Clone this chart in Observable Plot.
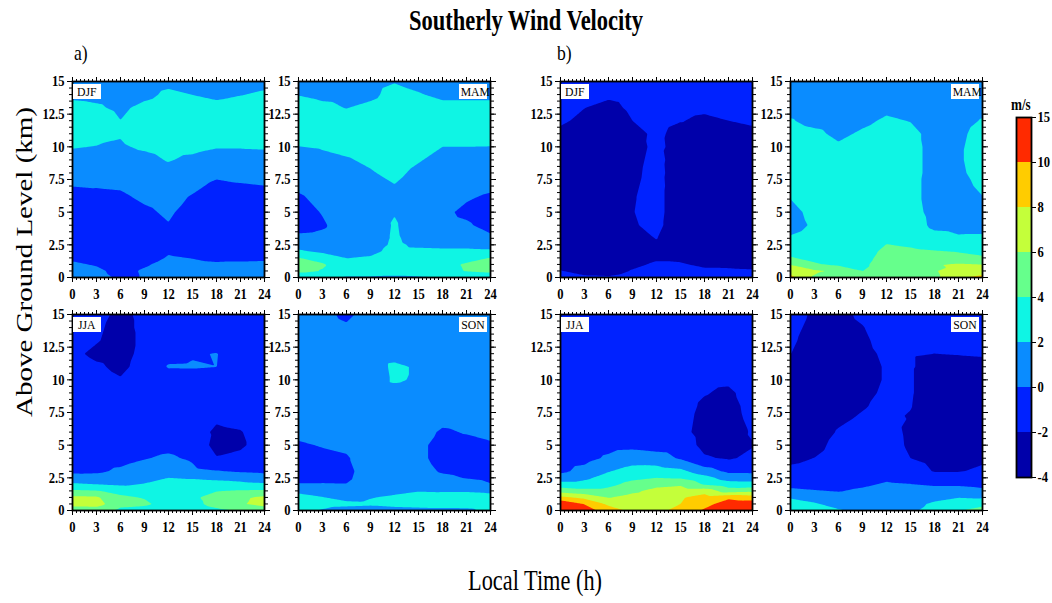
<!DOCTYPE html>
<html>
<head>
<meta charset="utf-8">
<script src="https://cdn.jsdelivr.net/npm/d3@7"></script>
<script src="https://cdn.jsdelivr.net/npm/@observablehq/plot@0.6"></script>
<style>
  body { margin: 0; background: #fff; }
  #root { position: relative; width: 1052px; height: 603px; background: #fff; overflow: hidden;
          font-family: "Liberation Serif", "Times New Roman", serif; color: #000; }
  .t { position: absolute; white-space: nowrap; line-height: 1; }
  .tag { position: absolute; background: #fff; font-size: 13px; line-height: 15px; height: 15px;
         width: 28px; text-align: center; white-space: nowrap; }
  .tag span { display: inline-block; transform: scaleX(0.9); }
  svg { position: absolute; overflow: visible; }
</style>
</head>
<body>
<div id="root"></div>
<script>
// ---------------- data ----------------
const HOURS = [0, 3, 6, 9, 12, 15, 18, 21, 24];                       // local time (h)
const HEIGHTS = [0, 0.5, 1, 1.5, 2, 2.5, 3, 4, 5, 6, 7, 8, 9, 10, 11, 12, 13, 14, 15]; // km AGL
const LEVELS = [-4, -2, 0, 2, 4, 6, 8, 10, 15];                        // colour bar levels (m/s)
const COLORS = ["#0000aa", "#0022ff", "#0a8cff", "#0ff5e4", "#66ff8c", "#c4ff3a", "#ffcc00", "#ff2a00"];
const X_TICKS = [0, 3, 6, 9, 12, 15, 18, 21, 24];
const Y_TICKS = [0, 2.5, 5, 7.5, 10, 12.5, 15];
const SEASONS = ["DJF", "MAM", "JJA", "SON"];
const GROUPS = ["a)", "b)"];

// each panel: one row per hour (HOURS), one value per height (HEIGHTS), southerly wind in m/s
const DJF_A = [
  [1.0, 0.6, 0.18, -0.2, -0.5, -0.8, -1.0, -1.2, -1.0, -0.5, 0.02, 0.7, 1.4, 2.1, 2.6, 3.0, 2.4, 1.7, 1.2],
  [0.6, 0.25, -0.1, -0.4, -0.6, -0.8, -1.0, -1.2, -1.0, -0.55, 0.1, 0.8, 1.3, 1.95, 2.5, 2.8, 2.2, 1.6, 1.2],
  [-0.3, -0.4, -0.6, -0.8, -0.9, -1.0, -1.1, -1.2, -0.9, -0.4, 0.2, 0.9, 1.4, 1.85, 2.1, 2.02, 1.7, 1.4, 1.0],
  [0.1, 0.15, -0.15, -0.5, -0.7, -0.9, -1.0, -0.8, -0.35, 0.25, 0.8, 1.2, 1.6, 2.2, 2.6, 2.9, 2.4, 1.6, 1.3],
  [0.8, 0.6, 0.4, 0.1, -0.12, -0.3, -0.35, -0.1, 0.3, 0.7, 1.1, 1.5, 2.1, 2.5, 2.8, 3.0, 2.8, 2.3, 1.6],
  [0.7, 0.45, 0.2, -0.03, -0.3, -0.6, -0.8, -1.0, -0.8, -0.25, 0.4, 1.0, 1.7, 2.4, 2.7, 2.9, 2.6, 1.98, 1.4],
  [0.7, 0.4, 0.12, -0.2, -0.5, -0.8, -1.0, -1.3, -1.2, -0.9, -0.4, 0.4, 1.3, 2.1, 2.6, 3.0, 2.4, 1.7, 1.2],
  [0.7, 0.42, 0.12, -0.15, -0.45, -0.75, -1.0, -1.3, -1.1, -0.75, -0.15, 0.5, 1.35, 2.1, 2.6, 3.0, 2.6, 1.95, 1.4],
  [0.7, 0.45, 0.15, -0.13, -0.4, -0.7, -1.0, -1.2, -1.0, -0.6, -0.02, 0.7, 1.45, 2.15, 2.6, 3.0, 2.7, 2.2, 1.6]
];
const MAM_A = [
  [2.2, 4.6, 4.6, 4.05, 2.3, 1.3, 0.3, -0.5, -0.7, -0.3, 0.3, 0.9, 1.4, 1.98, 2.5, 3.0, 2.6, 1.95, 1.5],
  [2.2, 3.9, 4.2, 3.2, 1.6, 1.2, 0.4, -0.2, 0.1, 0.5, 0.9, 1.3, 1.7, 2.1, 2.5, 2.8, 2.3, 1.7, 1.4],
  [1.8, 3.0, 2.8, 1.95, 1.3, 1.0, 0.9, 0.8, 0.9, 1.1, 1.4, 1.6, 1.9, 2.3, 2.5, 2.6, 1.95, 1.6, 1.3],
  [1.8, 3.0, 2.8, 2.2, 1.5, 1.0, 0.8, 0.8, 1.0, 1.3, 1.6, 1.9, 2.2, 2.5, 2.7, 2.8, 2.4, 1.6, 1.4],
  [1.6, 3.0, 3.0, 2.8, 2.6, 2.4, 2.3, 2.2, 1.9, 1.7, 1.95, 2.3, 2.6, 2.8, 3.0, 3.1, 3.0, 2.6, 1.9],
  [1.8, 3.0, 3.1, 2.9, 2.5, 1.6, 1.2, 0.9, 0.9, 1.1, 1.4, 1.7, 2.1, 2.5, 2.7, 2.9, 2.7, 2.1, 1.6],
  [2.0, 3.3, 3.5, 3.0, 2.4, 1.5, 1.0, 0.5, 0.3, 0.5, 0.8, 1.2, 1.6, 2.0, 2.5, 2.8, 2.4, 1.7, 1.4],
  [2.3, 4.1, 4.2, 3.4, 2.4, 1.5, 1.0, 0.2, -0.3, 0.1, 0.6, 1.0, 1.5, 2.0, 2.5, 2.8, 2.4, 1.7, 1.4],
  [2.3, 4.5, 4.6, 4.05, 2.3, 1.3, 0.3, -0.5, -0.8, -0.3, 0.3, 0.9, 1.4, 1.98, 2.5, 2.8, 2.4, 1.7, 1.4]
];
const JJA_A = [
  [5.0, 6.6, 6.4, 4.3, 2.3, 0.8, -0.4, -0.8, -1.0, -1.0, -1.0, -1.0, -1.0, -1.1, -1.3, -1.7, -1.6, -1.4, -1.3],
  [5.0, 6.8, 6.3, 4.1, 2.0, 0.7, -0.3, -0.8, -1.0, -1.1, -1.2, -1.3, -1.4, -1.5, -1.8, -2.3, -1.9, -1.8, -1.6],
  [3.5, 4.6, 4.3, 3.5, 1.7, 1.0, 0.3, -0.6, -1.0, -1.2, -1.3, -1.5, -1.7, -1.9, -2.3, -2.5, -2.5, -2.4, -2.3],
  [3.3, 4.3, 3.9, 3.1, 2.1, 1.4, 0.9, -0.1, -0.7, -1.0, -1.1, -1.2, -1.3, -1.4, -1.5, -1.6, -1.7, -1.7, -1.7],
  [2.6, 3.3, 3.5, 3.3, 2.9, 2.0, 1.4, 0.3, -0.5, -0.9, -1.1, -1.2, -1.3, -1.0, 0.15, -0.6, -1.4, -1.5, -1.5],
  [2.6, 3.3, 3.6, 3.5, 3.0, 1.8, 0.5, -0.3, -0.9, -1.2, -1.3, -1.4, -1.4, -1.2, 0.2, -0.2, -1.3, -1.4, -1.4],
  [3.5, 4.8, 4.9, 3.9, 2.8, 1.5, 0.1, -1.9, -2.5, -2.3, -1.8, -1.5, -1.4, -1.3, 0.02, 0.08, -1.3, -1.3, -1.3],
  [4.2, 5.8, 5.7, 4.2, 2.5, 1.3, -0.2, -1.5, -2.3, -2.1, -1.5, -1.3, -1.2, -1.2, -1.2, -1.2, -1.3, -1.3, -1.3],
  [5.0, 6.6, 6.4, 4.3, 2.3, 0.8, -0.4, -0.9, -1.1, -1.1, -1.1, -1.1, -1.1, -1.1, -1.2, -1.3, -1.3, -1.3, -1.3]
];
const SON_A = [
  [2.6, 2.7, 2.3, 1.8, 0.1, -0.5, -0.6, -0.5, -0.2, 0.4, 0.7, 0.8, 0.9, 1.0, 1.0, 1.0, 0.9, 0.8, 0.7],
  [1.9, 2.4, 2.05, 1.4, 0.1, -0.4, -0.6, -0.4, 0.1, 0.5, 0.7, 0.8, 0.9, 1.0, 1.0, 1.0, 0.8, 0.6, 0.4],
  [1.5, 2.3, 1.6, 1.2, 0.05, -0.3, -0.4, -0.15, 0.3, 0.6, 0.8, 0.9, 1.0, 1.1, 1.1, 1.0, 0.7, 0.2, -0.3],
  [1.4, 2.2, 1.95, 1.4, 1.0, 0.9, 0.8, 0.8, 0.8, 0.9, 1.0, 1.1, 1.2, 1.2, 1.2, 1.2, 1.0, 0.8, 0.6],
  [1.5, 2.4, 2.2, 1.7, 1.2, 1.0, 0.9, 0.8, 0.8, 0.9, 1.0, 1.2, 1.4, 2.2, 2.3, 1.4, 1.1, 0.9, 0.7],
  [1.6, 2.5, 2.4, 1.95, 1.4, 1.0, 0.7, 0.4, 0.4, 0.6, 0.9, 1.1, 1.3, 1.8, 1.8, 1.3, 1.1, 0.9, 0.7],
  [1.6, 2.6, 2.5, 1.9, 1.1, 0.4, -0.2, -0.6, -0.6, -0.2, 0.4, 0.7, 0.9, 1.0, 1.0, 1.0, 0.9, 0.8, 0.7],
  [1.7, 2.6, 2.5, 1.9, 0.9, -0.1, -0.5, -0.7, -0.5, 0.1, 0.5, 0.7, 0.9, 1.0, 1.0, 1.0, 0.9, 0.8, 0.7],
  [2.4, 2.7, 2.3, 1.8, 0.1, -0.5, -0.6, -0.5, -0.2, 0.4, 0.7, 0.8, 0.9, 1.0, 1.0, 1.0, 0.9, 0.8, 0.7]
];
const DJF_B = [
  [-1.6, -1.95, -2.4, -2.7, -2.9, -3.0, -3.1, -3.2, -3.2, -3.2, -3.1, -3.0, -2.9, -2.7, -2.3, -1.8, -1.6, -1.5, -1.4],
  [-1.8, -2.4, -2.7, -2.9, -3.0, -3.1, -3.2, -3.3, -3.3, -3.3, -3.2, -3.1, -3.0, -2.8, -2.6, -2.3, -1.98, -1.7, -1.5],
  [-1.85, -2.6, -2.8, -3.0, -3.1, -3.2, -3.2, -3.2, -3.1, -3.0, -2.9, -2.8, -2.8, -2.7, -2.7, -2.6, -2.3, -1.8, -1.6],
  [-1.4, -1.9, -2.3, -2.6, -2.8, -2.8, -2.6, -2.15, -2.05, -2.1, -2.2, -2.3, -2.4, -2.5, -2.4, -2.0, -1.8, -1.6, -1.5],
  [-1.0, -1.4, -1.8, -2.2, -2.5, -2.2, -1.95, -1.6, -1.5, -1.5, -1.5, -1.55, -1.6, -1.7, -1.75, -1.6, -1.5, -1.4, -1.3],
  [-1.1, -1.5, -1.9, -2.2, -2.5, -2.7, -2.9, -3.0, -3.0, -3.0, -2.9, -2.8, -2.7, -2.5, -2.4, -1.95, -1.7, -1.5, -1.4],
  [-1.4, -1.8, -2.2, -2.5, -2.7, -2.9, -3.0, -3.1, -3.1, -3.1, -3.0, -2.9, -2.8, -2.6, -2.4, -2.2, -1.8, -1.6, -1.5],
  [-1.45, -1.85, -2.2, -2.5, -2.7, -2.9, -3.0, -3.1, -3.1, -3.1, -3.0, -2.9, -2.8, -2.6, -2.3, -2.0, -1.75, -1.6, -1.5],
  [-1.5, -1.9, -2.3, -2.6, -2.8, -2.9, -3.0, -3.1, -3.1, -3.1, -3.0, -2.9, -2.8, -2.6, -2.3, -1.8, -1.6, -1.5, -1.4]
];
const MAM_B = [
  [8.6, 7.2, 5.9, 4.1, 3.6, 3.0, 2.15, 1.5, 1.7, 2.0, 2.4, 2.6, 2.7, 2.8, 2.6, 2.1, 1.6, 1.4, 1.3],
  [5.8, 6.3, 4.2, 3.6, 3.4, 3.0, 2.6, 2.2, 2.3, 2.5, 2.7, 2.8, 2.9, 2.8, 2.3, 1.6, 1.4, 1.3, 1.3],
  [4.8, 5.6, 3.6, 3.3, 3.1, 3.0, 2.9, 2.8, 2.8, 2.8, 2.8, 2.7, 2.5, 2.2, 1.7, 1.4, 1.3, 1.2, 1.2],
  [4.4, 3.98, 3.6, 3.3, 3.1, 3.0, 2.9, 2.9, 2.9, 2.9, 2.9, 2.8, 2.7, 2.6, 2.2, 1.7, 1.4, 1.3, 1.2],
  [5.0, 5.0, 5.0, 4.8, 4.5, 4.05, 3.6, 3.2, 3.0, 2.9, 2.9, 2.9, 2.9, 2.8, 2.6, 2.2, 1.7, 1.4, 1.3],
  [5.0, 5.0, 4.9, 4.7, 4.3, 3.8, 3.4, 2.9, 2.6, 2.5, 2.5, 2.5, 2.5, 2.5, 2.4, 1.95, 1.6, 1.4, 1.3],
  [5.6, 5.8, 5.9, 4.9, 4.1, 3.4, 2.6, 1.6, 1.5, 1.4, 1.4, 1.5, 1.5, 1.5, 1.5, 1.4, 1.3, 1.2, 1.2],
  [7.8, 7.2, 6.2, 4.5, 3.9, 3.2, 2.2, 1.5, 1.4, 1.4, 1.5, 1.7, 1.8, 1.8, 1.7, 1.5, 1.3, 1.2, 1.2],
  [8.5, 7.2, 6.0, 4.2, 3.6, 3.0, 2.2, 1.6, 1.7, 1.9, 2.3, 2.6, 2.7, 2.6, 2.5, 2.1, 1.6, 1.4, 1.3]
];
const JJA_B = [
  [12.5, 11.8, 8.5, 5.2, 2.8, 0.9, -0.4, -0.9, -1.0, -1.1, -1.2, -1.3, -1.3, -1.3, -1.3, -1.3, -1.3, -1.3, -1.3],
  [11.0, 9.9, 7.5, 4.6, 2.7, 1.6, 0.6, -0.6, -1.0, -1.1, -1.2, -1.2, -1.2, -1.2, -1.2, -1.2, -1.2, -1.2, -1.2],
  [9.0, 7.6, 5.9, 4.6, 3.5, 2.8, 1.9, 0.3, -0.6, -0.9, -1.1, -1.2, -1.2, -1.2, -1.2, -1.2, -1.2, -1.2, -1.2],
  [7.5, 7.2, 6.7, 5.6, 4.6, 3.6, 2.8, 1.0, -0.5, -0.9, -1.1, -1.2, -1.2, -1.2, -1.2, -1.2, -1.2, -1.2, -1.2],
  [7.5, 7.4, 7.1, 6.6, 5.4, 4.0, 2.9, 0.8, -0.8, -1.0, -1.1, -1.2, -1.2, -1.2, -1.2, -1.2, -1.2, -1.2, -1.2],
  [8.6, 8.0, 7.8, 7.0, 5.7, 3.8, 2.5, -0.2, -1.0, -1.5, -1.4, -1.3, -1.2, -1.2, -1.2, -1.2, -1.2, -1.2, -1.2],
  [10.3, 9.3, 8.8, 7.2, 3.8, 2.7, 0.9, -1.8, -2.5, -2.6, -2.5, -2.3, -1.9, -1.6, -1.4, -1.3, -1.3, -1.3, -1.3],
  [12.0, 11.0, 9.6, 5.0, 2.9, 1.1, -0.4, -2.2, -2.8, -2.9, -2.8, -2.6, -2.3, -1.7, -1.4, -1.3, -1.3, -1.3, -1.3],
  [12.0, 11.2, 9.0, 5.4, 2.8, 0.9, -0.4, -1.6, -2.1, -1.8, -1.5, -1.4, -1.3, -1.3, -1.3, -1.3, -1.3, -1.3, -1.3]
];
const SON_B = [
  [4.1, 3.0, 1.8, 0.3, -0.4, -1.2, -1.7, -2.3, -2.5, -2.6, -2.7, -2.7, -2.7, -2.6, -2.4, -1.98, -1.8, -1.6, -1.5],
  [3.0, 2.2, 1.3, 0.1, -0.6, -1.1, -1.5, -1.98, -2.4, -2.6, -2.7, -2.8, -2.8, -2.8, -2.7, -2.6, -2.5, -2.4, -2.2],
  [2.2, 1.3, 0.7, -0.1, -0.6, -0.9, -1.1, -1.4, -1.6, -1.9, -2.2, -2.4, -2.5, -2.6, -2.6, -2.6, -2.5, -2.4, -2.3],
  [1.5, 1.2, 0.8, 0.3, -0.3, -0.7, -1.0, -1.3, -1.5, -1.7, -1.85, -2.1, -2.3, -2.4, -2.4, -2.3, -2.2, -2.05, -1.8],
  [1.5, 1.3, 1.0, 0.6, 0.2, -0.3, -0.7, -1.1, -1.3, -1.4, -1.5, -1.7, -1.8, -1.9, -1.9, -1.8, -1.6, -1.5, -1.3],
  [1.6, 1.4, 1.2, 0.8, 0.05, -0.6, -1.2, -2.0, -2.25, -2.3, -2.1, -1.95, -1.9, -1.9, -1.9, -1.9, -1.8, -1.7, -1.6],
  [2.8, 2.3, 1.5, 0.6, -0.2, -1.1, -2.1, -2.5, -2.7, -2.7, -2.7, -2.7, -2.6, -2.6, -2.4, -2.0, -1.8, -1.7, -1.6],
  [3.9, 2.9, 1.95, 0.6, -0.2, -1.1, -2.1, -2.5, -2.7, -2.7, -2.7, -2.7, -2.6, -2.6, -2.4, -1.95, -1.8, -1.7, -1.6],
  [4.6, 3.6, 1.8, 0.3, -0.4, -1.2, -1.7, -2.3, -2.5, -2.6, -2.7, -2.7, -2.7, -2.6, -2.3, -1.9, -1.7, -1.6, -1.5]
];

// ---------------- layout ----------------
const root = document.getElementById("root");
const PW = 192, PH = 196;           // panel frame size (px)
const ML = 44, MR = 10, MT = 10, MB = 32;
const FONT = "Liberation Serif";
const SQUEEZE = 0.84;

function addText(txt, css, transform) {
  const d = document.createElement("div");
  d.className = "t";
  d.textContent = txt;
  Object.assign(d.style, css);
  if (transform) d.style.transform = transform;
  root.appendChild(d);
  return d;
}

// narrow the tick-label glyphs horizontally (the reference uses a condensed serif)
function squeeze(svg, s) {
  svg.querySelectorAll("text").forEach(t => {
    const x = t.getAttribute("x");
    let tr = t.getAttribute("transform") || "";
    if (x != null && isFinite(+x)) {
      tr += ` translate(${+x},0)`;
      t.removeAttribute("x");
    }
    t.setAttribute("transform", tr + ` scale(${s},1)`);
  });
}

const colorScale = {type: "threshold", domain: LEVELS.slice(1, -1), range: COLORS};
const THRESH = [-100, ...LEVELS.slice(1, -1)];
const X_MINOR = d3.range(0, 24.001, 0.5);
const Y_MINOR = d3.range(0, 15.001, 0.5);

function panel(values, left, top) {
  const pts = [];
  HOURS.forEach((h, i) => HEIGHTS.forEach((z, j) => pts.push({h, z, v: values[i][j]})));
  const svg = Plot.plot({
    width: PW + ML + MR, height: PH + MT + MB,
    marginLeft: ML, marginRight: MR, marginTop: MT, marginBottom: MB,
    style: {fontFamily: FONT, fontSize: "15px", fontWeight: "bold", background: "transparent", color: "black"},
    x: {domain: [0, 24]},
    y: {domain: [0, 15]},
    color: colorScale,
    marks: [
      Plot.contour(pts, {x: "h", y: "z", fill: "v", stroke: "none", thresholds: THRESH, interpolate: "barycentric", pixelSize: 1}),
      Plot.axisX({anchor: "bottom", ticks: X_MINOR, tickSize: 3, fill: "none", label: null}),
      Plot.axisX({anchor: "top", ticks: X_MINOR, tickSize: 3, fill: "none", label: null}),
      Plot.axisX({anchor: "top", ticks: X_TICKS, tickSize: 5, fill: "none", label: null}),
      Plot.axisX({anchor: "bottom", ticks: X_TICKS, tickSize: 5, tickPadding: 6, tickFormat: d => String(d), label: null}),
      Plot.axisY({anchor: "left", ticks: Y_MINOR, tickSize: 3, fill: "none", label: null}),
      Plot.axisY({anchor: "right", ticks: Y_MINOR, tickSize: 3, fill: "none", label: null}),
      Plot.axisY({anchor: "right", ticks: Y_TICKS, tickSize: 5, fill: "none", label: null}),
      Plot.axisY({anchor: "left", ticks: Y_TICKS, tickSize: 5, tickPadding: 3, tickFormat: d => String(d), label: null}),
      Plot.frame({stroke: "black", strokeWidth: 1.8})
    ]
  });
  squeeze(svg, SQUEEZE);
  svg.style.left = (left - ML) + "px";
  svg.style.top = (top - MT) + "px";
  root.appendChild(svg);
}

const PANELS = [
  {data: DJF_A, season: SEASONS[0], left: 72, top: 81},
  {data: MAM_A, season: SEASONS[1], left: 298, top: 81},
  {data: JJA_A, season: SEASONS[2], left: 72, top: 314},
  {data: SON_A, season: SEASONS[3], left: 298, top: 314},
  {data: DJF_B, season: SEASONS[0], left: 560, top: 81},
  {data: MAM_B, season: SEASONS[1], left: 790, top: 81},
  {data: JJA_B, season: SEASONS[2], left: 560, top: 314},
  {data: SON_B, season: SEASONS[3], left: 790, top: 314}
];

PANELS.forEach((p, k) => {
  panel(p.data, p.left, p.top);
  const tag = document.createElement("div");
  tag.className = "tag";
  const sp = document.createElement("span");
  sp.textContent = p.season;
  tag.appendChild(sp);
  const rightSide = (k % 2) === 1;
  tag.style.left = (rightSide ? p.left + PW - 31 : p.left + 1) + "px";
  tag.style.top = (p.top + 3) + "px";
  root.appendChild(tag);
});

// ---------------- colour bar ----------------
(function colorbar() {
  const left = 1016, top = 117, w = 15, h = 360;
  const cml = 2, cmr = 34, cmt = 4, cmb = 4;
  const bands = COLORS.map((c, i) => ({i, lo: LEVELS[i]}));
  const svg = Plot.plot({
    width: w + cml + cmr, height: h + cmt + cmb,
    marginLeft: cml, marginRight: cmr, marginTop: cmt, marginBottom: cmb,
    style: {fontFamily: FONT, fontSize: "15px", fontWeight: "bold", background: "transparent", color: "black"},
    x: {domain: [0, 1], axis: null},
    y: {domain: [0, LEVELS.length - 1], axis: null},
    color: colorScale,
    marks: [
      Plot.rect(bands, {x1: 0, x2: 1, y1: "i", y2: d => d.i + 1, fill: "lo"}),
      Plot.axisY({anchor: "right", ticks: d3.range(LEVELS.length), tickSize: 4, tickPadding: 2,
                  tickFormat: i => String(LEVELS[i]), label: null}),
      Plot.frame({stroke: "black", strokeWidth: 1.8})
    ]
  });
  squeeze(svg, SQUEEZE);
  svg.style.left = (left - cml) + "px";
  svg.style.top = (top - cmt) + "px";
  root.appendChild(svg);
  addText("m/s", {left: "1011px", top: "97px", fontSize: "16px", fontWeight: "bold", transformOrigin: "left top"}, "scaleX(0.82)");
})();

// ---------------- titles ----------------
addText("Southerly Wind Velocity", {left: "0px", width: "1052px", textAlign: "center", top: "5px", fontSize: "30px", fontWeight: "bold"}, "scaleX(0.75)");
addText(GROUPS[0], {left: "74px", top: "42px", fontSize: "22px", transformOrigin: "left top"}, "scaleX(0.8)");
addText(GROUPS[1], {left: "557px", top: "42px", fontSize: "22px", transformOrigin: "left top"}, "scaleX(0.8)");
addText("Local Time (h)", {left: "0px", width: "1070px", textAlign: "center", top: "566px", fontSize: "29px"}, "scaleX(0.77)");
addText("Above Ground Level (km)", {left: "28px", top: "262px", fontSize: "29px", transformOrigin: "0 0"},
  "rotate(-90deg) translate(-50%, -50%) scale(1, 0.78)");
</script>
</body>
</html>
